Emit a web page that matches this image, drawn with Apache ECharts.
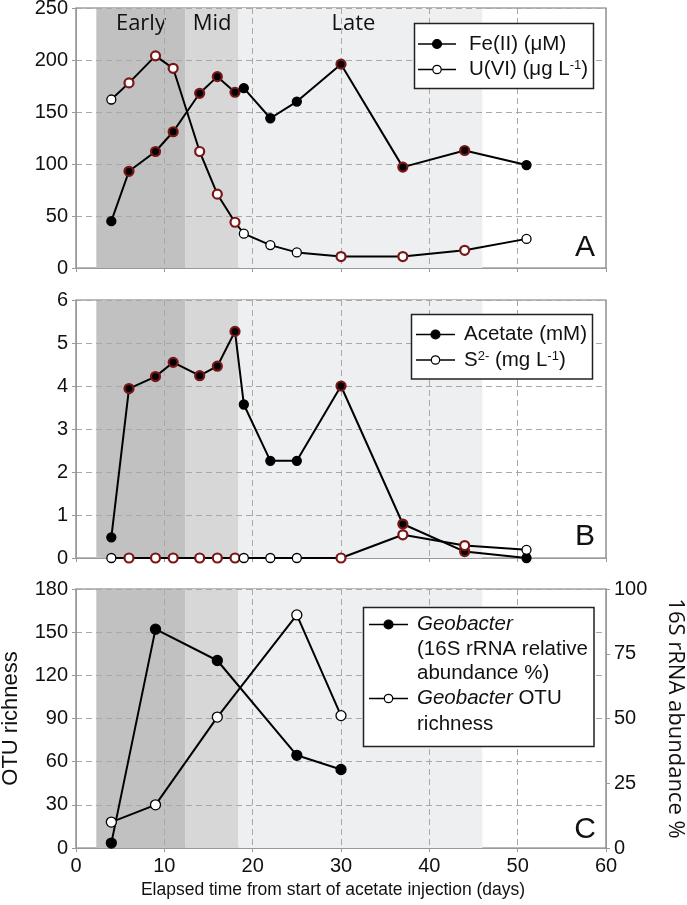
<!DOCTYPE html>
<html><head><meta charset="utf-8">
<script src="https://cdn.jsdelivr.net/npm/echarts@6/dist/echarts.min.js"></script>
<style>html,body{margin:0;padding:0;background:#fff}#c{width:687px;height:905px}</style>
</head><body><div id="c"></div>
<script>
// ---- data ----
const days = [4, 6, 9, 11, 14, 16, 18, 19, 22, 25, 30, 37, 44, 51];
const feII = [45, 93, 112, 131, 168, 184, 169, 173, 144, 160, 196, 97, 113, 99];
const uVI = [162, 178, 204, 192, 112, 71, 44, 33, 22, 15, 11, 11, 17, 28];
const acetate = [0.48, 3.94, 4.22, 4.55, 4.24, 4.46, 5.27, 3.57, 2.26, 2.26, 4.0, 0.79, 0.15, 0.0];
const sulfide = [0, 0, 0, 0, 0, 0, 0, 0, 0, 0, 0, 0.54, 0.29, 0.19];
const seqDays = [4, 9, 16, 25, 30];
const geobacterAbund = [1.9, 84.5, 72.4, 35.8, 30.3];
const otuRichness = [18, 30, 91, 162, 92];
const ringedDays = [6, 9, 11, 14, 16, 18, 30, 37, 44];
const phaseNames = ['Early', 'Mid', 'Late'];
const phaseBounds = [2.3, 12.4, 18.4, 46.0];
const xTicks = [0, 10, 20, 30, 40, 50, 60];
const ticksA = [0, 50, 100, 150, 200, 250];
const ticksB = [0, 1, 2, 3, 4, 5, 6];
const ticksCLeft = [0, 30, 60, 90, 120, 150, 180];
const ticksCRight = [0, 25, 50, 75, 100];

// ---- styling ----
const RING = '#7a1616';
const phaseColors = ['#c1c1c1', '#d7d7d7', '#eeeff0'];
const AX = '"Liberation Sans", Arial, sans-serif';
const MY = '"Open Sans", sans-serif';
const gridPos = [
  {left: 76, right: 81, top: 8, height: 260},
  {left: 76, right: 81, top: 300, height: 258},
  {left: 76, right: 81, top: 589, height: 259}
];

function pts(xs, vals, filled, useRing) {
  return vals.map((v, i) => {
    const r = useRing && ringedDays.includes(xs[i]);
    return {value: [xs[i], v], itemStyle: {
      color: filled ? '#000' : '#fff',
      borderColor: r ? RING : '#000',
      borderWidth: r ? 2.2 : 1.3 }};
  });
}
function phaseArea(withLabels) {
  return {
    silent: true,
    label: {show: withLabels, position: 'insideTop', distance: 5, fontFamily: MY, fontSize: 22, color: '#111'},
    data: phaseNames.map((n, i) => [
      {xAxis: phaseBounds[i], name: n, itemStyle: {color: phaseColors[i]},
       label: i === 2 ? {offset: [-7, 0]} : {}},
      {xAxis: phaseBounds[i + 1]}
    ])
  };
}
function xAx(i) {
  return {
    type: 'value', gridIndex: i, min: xTicks[0], max: xTicks[xTicks.length - 1],
    interval: xTicks[1] - xTicks[0], z: 2,
    axisLine: {lineStyle: {color: '#999', width: 1}},
    axisTick: {show: true, length: 4, lineStyle: {color: '#999'}},
    axisLabel: {show: i === 2, fontFamily: AX, fontSize: 20, color: '#111', margin: 8},
    splitLine: {show: true, lineStyle: {color: '#a8a8a8', type: [6, 4], width: 1}},
    name: i === 2 ? 'Elapsed time from start of acetate injection (days)' : '',
    nameLocation: 'middle', nameGap: 33,
    nameTextStyle: {fontFamily: AX, fontSize: 17.5, color: '#111', padding: [0, 16, 0, 0]}
  };
}
function yAx(i, ticks, extra) {
  return Object.assign({
    type: 'value', gridIndex: i, min: ticks[0], max: ticks[ticks.length - 1],
    interval: ticks[1] - ticks[0], z: 2,
    axisLine: {show: true, lineStyle: {color: '#999', width: 1}},
    axisTick: {show: true, length: 4, lineStyle: {color: '#999'}},
    axisLabel: {fontFamily: AX, fontSize: 20, color: '#111', margin: 8},
    splitLine: {show: true, lineStyle: {color: '#a8a8a8', type: [6, 4], width: 1}}
  }, extra || {});
}
const lineBase = {type: 'line', symbol: 'circle', symbolSize: 9, z: 4,
  lineStyle: {color: '#000', width: 2}, itemStyle: {color: '#000'}};

// ---- legends (graphic) ----
const g = [];
function box(x, y, w, h) {
  g.push({type: 'rect', z: 100, shape: {x, y, width: w, height: h},
    style: {fill: '#fff', stroke: '#222', lineWidth: 1.5}});
}
function icon(x1, x2, y, filled) {
  g.push({type: 'line', z: 101, shape: {x1, y1: y, x2, y2: y}, style: {stroke: '#000', lineWidth: 1.4}});
  g.push({type: 'circle', z: 102, shape: {cx: (x1 + x2) / 2, cy: y, r: filled ? 4.5 : 4.2},
    style: {fill: filled ? '#000' : '#fff', stroke: '#000', lineWidth: 1.2}});
}
const rich = {
  a: {fontFamily: AX, fontSize: 20.5, color: '#111'},
  i: {fontFamily: AX, fontSize: 20.5, color: '#111', fontStyle: 'italic'},
  s: {fontFamily: AX, fontSize: 13, color: '#111', verticalAlign: 'top', padding: [0, 0, 8, 0]}
};
function txt(x, y, text) {
  g.push({type: 'text', z: 103, style: {x, y, text, rich, verticalAlign: 'middle', align: 'left',
    fontFamily: AX, fontSize: 20.5, fill: '#111'}});
}
// A
box(414.5, 23.5, 179, 65);
icon(418, 456, 44, true); txt(469, 44, '{a|Fe(II) (μM)}');
icon(418, 456, 69.5, false); txt(469, 69.5, '{a|U(VI) (μg L}{s|-1}{a|)}');
// B
box(411.5, 314.5, 181, 64.5);
icon(416, 455, 334.5, true); txt(464, 334.5, '{a|Acetate (mM)}');
icon(416, 455, 360, false); txt(464, 360, '{a|S}{s|2-}{a| (mg L}{s|-1}{a|)}');
// C
box(363.5, 607.5, 230.5, 139);
icon(369, 408, 624.5, true); txt(417, 624.5, '{i|Geobacter}');
txt(417, 649, '{a|(16S rRNA relative}');
txt(417, 673.5, '{a|abundance %)}');
icon(369, 408, 698.5, false); txt(417, 698.5, '{i|Geobacter}{a| OTU}');
txt(417, 724, '{a|richness}');
// panel letters
[['A', 248], ['B', 537], ['C', 830]].forEach(([t, y]) => {
  g.push({type: 'text', z: 103, style: {x: 585, y, text: t, align: 'center', verticalAlign: 'middle',
    fontFamily: AX, fontSize: 30, fill: '#111'}});
});

const option = {
  animation: false,
  backgroundColor: '#fff',
  grid: gridPos.map(p => Object.assign({show: true, borderColor: '#777', borderWidth: 1.2,
    backgroundColor: 'transparent', containLabel: false, outerBoundsMode: 'none'}, p)),
  xAxis: [xAx(0), xAx(1), xAx(2)],
  yAxis: [
    yAx(0, ticksA),
    yAx(1, ticksB),
    yAx(2, ticksCLeft, {name: 'OTU richness', nameLocation: 'middle', nameGap: 54,
      nameTextStyle: {fontFamily: AX, fontSize: 22, color: '#111'}}),
    yAx(2, ticksCRight, {position: 'right', splitLine: {show: false},
      name: '16S rRNA abundance %', nameLocation: 'middle', nameGap: 58, nameRotate: -90,
      nameTextStyle: {fontFamily: MY, fontSize: 22, color: '#111'}})
  ],
  series: [
    Object.assign({}, lineBase, {name: 'Fe(II)', xAxisIndex: 0, yAxisIndex: 0,
      data: pts(days, feII, true, true), markArea: phaseArea(true)}),
    Object.assign({}, lineBase, {name: 'U(VI)', xAxisIndex: 0, yAxisIndex: 0,
      data: pts(days, uVI, false, true)}),
    Object.assign({}, lineBase, {name: 'Acetate', xAxisIndex: 1, yAxisIndex: 1,
      data: pts(days, acetate, true, true), markArea: phaseArea(false)}),
    Object.assign({}, lineBase, {name: 'S2-', xAxisIndex: 1, yAxisIndex: 1,
      data: pts(days, sulfide, false, true)}),
    Object.assign({}, lineBase, {name: 'Geobacter abundance', xAxisIndex: 2, yAxisIndex: 3, symbolSize: 10,
      data: pts(seqDays, geobacterAbund, true, false), markArea: phaseArea(false)}),
    Object.assign({}, lineBase, {name: 'Geobacter OTU richness', xAxisIndex: 2, yAxisIndex: 2, symbolSize: 10,
      data: pts(seqDays, otuRichness, false, false)})
  ],
  graphic: g
};
const chart = echarts.init(document.getElementById('c'), null, {renderer: 'canvas'});
chart.setOption(option);
</script></body></html>
